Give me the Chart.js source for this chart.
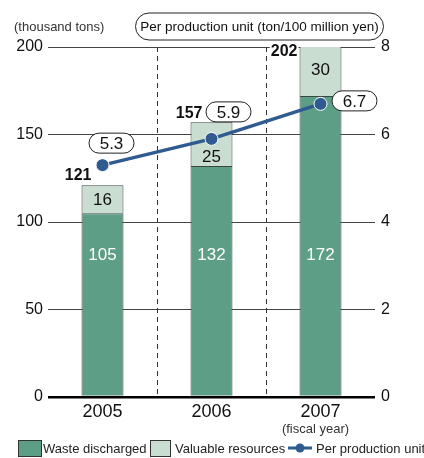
<!DOCTYPE html>
<html>
<head>
<meta charset="utf-8">
<script src="https://cdn.jsdelivr.net/npm/chart.js@4"></script>
<style>
  html, body { margin: 0; padding: 0; background: #fff; }
  #wrap { width: 424px; height: 458px; }
</style>
</head>
<body>
<div id="wrap"><canvas id="chart" width="424" height="458"></canvas></div>
<script>
// data
const years = ['2005', '2006', '2007'];
const wasteDischarged = [105, 132, 172];
const valuableResources = [16, 25, 30];
const perProductionUnit = [5.3, 5.9, 6.7];

// colours
const C_DARK  = '#5d9e87';
const C_LIGHT = '#c9ddd1';
const C_LINE  = '#2f5b90';
const C_EDGE  = '#3b4640';
const FONT = "'Liberation Sans', Arial, Helvetica, sans-serif";

Chart.defaults.font.family = FONT;
Chart.defaults.color = '#111';

// label placement (offsets only, no data)
const pillOffsets  = [[9, -22], [17, -27], [34, -3]];   // from the dot
const totalOffsets = [[-11, -10], [-9, -9], [-23, 8]];  // from bar centre / bar top

function pill(ctx, cx, cy, w, h, text, size) {
  ctx.save();
  ctx.beginPath();
  ctx.roundRect(cx - w / 2, cy - h / 2, w, h, h / 2);
  ctx.fillStyle = '#fff';
  ctx.fill();
  ctx.lineWidth = 1;
  ctx.strokeStyle = '#222';
  ctx.stroke();
  ctx.fillStyle = '#111';
  ctx.font = size + 'px ' + FONT;
  ctx.textAlign = 'center';
  ctx.textBaseline = 'middle';
  ctx.fillText(text, cx, cy + 1);
  ctx.restore();
}

const decor = {
  id: 'decor',
  beforeDatasetsDraw(chart) {
    const { ctx, chartArea: a, scales: { x } } = chart;
    ctx.save();
    ctx.strokeStyle = '#333';
    ctx.lineWidth = 1;
    ctx.setLineDash([5, 4]);
    for (let i = 0; i < years.length - 1; i++) {
      const px = Math.round((x.getPixelForValue(i) + x.getPixelForValue(i + 1)) / 2) + 0.5;
      ctx.beginPath();
      ctx.moveTo(px, a.top);
      ctx.lineTo(px, a.bottom);
      ctx.stroke();
    }
    ctx.restore();
  },
  afterDatasetsDraw(chart) {
    const { ctx, chartArea: a } = chart;
    const low = chart.getDatasetMeta(0).data;
    const high = chart.getDatasetMeta(1).data;
    const dots = chart.getDatasetMeta(2).data;
    ctx.save();
    ctx.textAlign = 'center';
    ctx.textBaseline = 'middle';

    years.forEach((yr, i) => {
      const b0 = low[i], b1 = high[i], d = dots[i];
      // dark segment
      ctx.font = '17px ' + FONT;
      ctx.fillStyle = '#fff';
      ctx.fillText(String(wasteDischarged[i]), b0.x, a.top + 208);
      // light segment
      let ly = (b1.y + b1.base) / 2 + 1;
      if (d.y >= b1.y && d.y <= b1.base) ly = Math.max(ly, d.y + 18);
      ctx.fillStyle = '#111';
      ctx.fillText(String(valuableResources[i]), b1.x, ly);
      // totals
      const total = wasteDischarged[i] + valuableResources[i];
      ctx.font = 'bold 16px ' + FONT;
      ctx.textAlign = 'right';
      const tx = b1.x + totalOffsets[i][0], ty = b1.y + totalOffsets[i][1];
      const tw = ctx.measureText(String(total)).width;
      ctx.fillStyle = '#fff';
      ctx.fillRect(tx - tw - 1, ty - 8, tw + 2, 16);
      ctx.fillStyle = '#111';
      ctx.fillText(String(total), tx, ty);
      ctx.textAlign = 'center';
    });

    dots.forEach((d, i) => {
      pill(ctx, d.x + pillOffsets[i][0], d.y + pillOffsets[i][1], 45, 20, perProductionUnit[i].toFixed(1), 17);
    });
    ctx.restore();
  },
  afterDraw(chart) {
    const { ctx } = chart;
    ctx.save();
    ctx.fillStyle = '#333';
    ctx.textBaseline = 'middle';
    ctx.font = '13px ' + FONT;
    ctx.textAlign = 'left';
    ctx.fillText('(thousand tons)', 14, 27);
    pill(ctx, 259.5, 26.5, 248, 27, 'Per production unit (ton/100 million yen)', 13.5);

    ctx.fillStyle = '#333';
    ctx.font = '13px ' + FONT;
    ctx.textAlign = 'center';
    ctx.textBaseline = 'middle';
    const x = chart.scales.x;
    ctx.fillText('(fiscal year)', x.getPixelForValue(2) - 5, 429);

    // legend
    const ly = 448;
    ctx.textAlign = 'left';
    ctx.lineWidth = 1;
    ctx.strokeStyle = '#333';
    ctx.fillStyle = C_DARK;
    ctx.fillRect(18.5, 440.5, 23, 16);
    ctx.strokeRect(18.5, 440.5, 23, 16);
    ctx.fillStyle = C_LIGHT;
    ctx.fillRect(150.5, 440.5, 20, 16);
    ctx.strokeRect(150.5, 440.5, 20, 16);
    ctx.strokeStyle = C_LINE;
    ctx.lineWidth = 3;
    ctx.beginPath();
    ctx.moveTo(288, ly);
    ctx.lineTo(312, ly);
    ctx.stroke();
    ctx.fillStyle = C_LINE;
    ctx.beginPath();
    ctx.arc(300, ly, 4.5, 0, Math.PI * 2);
    ctx.fill();
    ctx.fillStyle = '#222';
    ctx.font = '13px ' + FONT;
    ctx.fillText('Waste discharged', 43, ly + 1);
    ctx.fillText('Valuable resources', 175, ly + 1);
    ctx.fillText('Per production unit', 316, ly + 1);
    ctx.restore();
  }
};

new Chart(document.getElementById('chart'), {
  type: 'bar',
  data: {
    labels: years,
    datasets: [
      {
        label: 'Waste discharged',
        data: wasteDischarged,
        backgroundColor: C_DARK,
        borderColor: C_EDGE,
        borderWidth: 1,
        stack: 's',
        yAxisID: 'y',
        order: 2
      },
      {
        label: 'Valuable resources',
        data: valuableResources,
        backgroundColor: C_LIGHT,
        borderColor: C_EDGE,
        borderWidth: 1,
        stack: 's',
        yAxisID: 'y',
        order: 2
      },
      {
        type: 'line',
        label: 'Per production unit',
        data: perProductionUnit,
        borderColor: C_LINE,
        backgroundColor: C_LINE,
        borderWidth: 3.5,
        pointRadius: 6.5,
        pointBorderColor: '#fff',
        pointBorderWidth: 1,
        yAxisID: 'y2',
        order: 1
      }
    ]
  },
  options: {
    responsive: false,
    animation: false,
    categoryPercentage: 1,
    barPercentage: 0.385,
    layout: { padding: { top: 47, left: 0, right: 0, bottom: 0 } },
    plugins: { legend: { display: false }, tooltip: { enabled: false } },
    scales: {
      x: {
        stacked: true,
        grid: { display: false, drawTicks: false },
        border: { display: false },
        ticks: { color: '#111', font: { size: 18 }, padding: 4 },
        afterFit(s) { s.height = 61; }
      },
      y: {
        stacked: true,
        min: 0,
        max: 200,
        ticks: { stepSize: 50, color: '#111', font: { size: 16 }, padding: 5 },
        grid: {
          drawTicks: false,
          color: c => c.tick.value === 0 ? '#000' : '#444',
          lineWidth: c => c.tick.value === 0 ? 2.5 : 1
        },
        border: { display: false },
        afterFit(s) { s.width = 48; }
      },
      y2: {
        position: 'right',
        min: 0,
        max: 8,
        ticks: { stepSize: 2, color: '#111', font: { size: 16 }, padding: 6 },
        grid: { drawOnChartArea: false, drawTicks: false },
        border: { display: false },
        afterFit(s) { s.width = 49; }
      }
    }
  },
  plugins: [decor]
});
</script>
</body>
</html>
